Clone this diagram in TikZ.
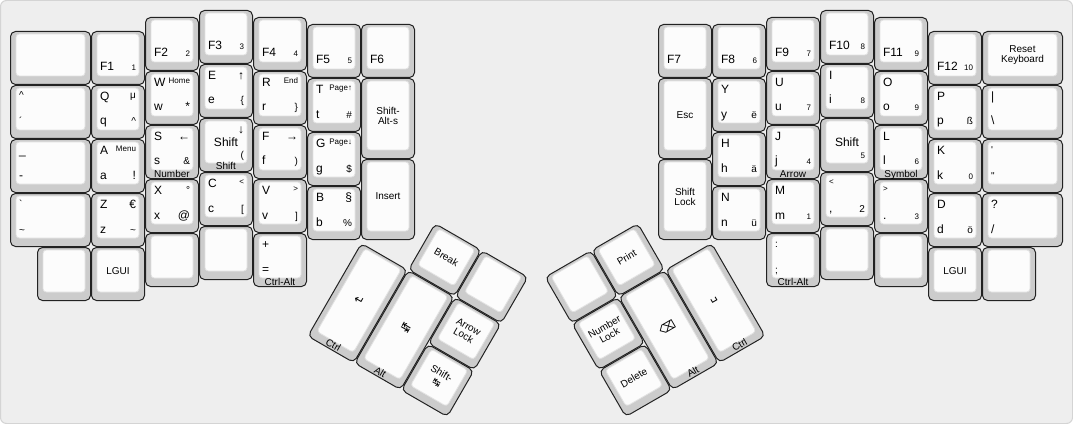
\documentclass[tikz,border=0pt]{standalone}
\usepackage{fontspec}
\newfontfamily\kf{Liberation Sans}
\newfontfamily\symf{DejaVu Sans}
\newcommand\sA{\fontsize{9}{9.5}\selectfont}
\newcommand\sB{\fontsize{7.5}{7.6}\selectfont}
\newcommand\sC{\fontsize{6}{6.5}\selectfont}
\def\bA{15.6}\def\bB{14}\def\bC{12.4}
\definecolor{bg}{HTML}{EEEEEE}
\definecolor{bgline}{HTML}{D4D4D4}
\definecolor{keyside}{HTML}{CCCCCC}
\definecolor{keyline}{HTML}{222222}
\definecolor{keytop}{HTML}{FCFCFC}
\definecolor{keytopline}{HTML}{E2E2E2}
\newcounter{lc}
\tikzset{
  keyout/.style={fill=keyside, draw=keyline, line width=0.75pt, rounded corners=3.75pt},
  keyin/.style={fill=keytop, draw=keytopline, line width=0.6pt, rounded corners=2.5pt},
  lbl/.style={inner sep=0pt, outer sep=0pt, text=black, transform shape},
}
\newcommand\keyk[5]{\begin{scope}[shift={(#1,#2)}]\def\kw{#3}\def\kh{#4}%
  \draw[keyout] (0.5,0.5) rectangle (#3-0.5,#4-0.5);%
  \draw[keyin] (6,3) rectangle (#3-6,#4-9);#5\end{scope}}
\newcommand\kTL[2][A]{\stepcounter{lc}\node[lbl,name=n\arabic{lc},anchor=base west,font=\kf\csname s#1\endcsname] at (9,\csname b#1\endcsname) {#2};}
\newcommand\kTR[2][B]{\stepcounter{lc}\node[lbl,name=n\arabic{lc},anchor=base east,font=\kf\csname s#1\endcsname] at (\kw-9,\csname b#1\endcsname) {#2};}
\newcommand\kBL[2][A]{\stepcounter{lc}\node[lbl,name=n\arabic{lc},anchor=base west,font=\kf\csname s#1\endcsname] at (9,\kh-14) {#2};}
\newcommand\kBR[2][B]{\stepcounter{lc}\node[lbl,name=n\arabic{lc},anchor=base east,font=\kf\csname s#1\endcsname] at (\kw-9,\kh-14) {#2};}
\newcommand\kCT[2][B]{\stepcounter{lc}\node[lbl,name=n\arabic{lc},align=center,font=\kf\csname s#1\endcsname] at (\kw/2,\kh/2-3) {#2};}
\newcommand\kFR[1]{\stepcounter{lc}\node[lbl,name=n\arabic{lc},anchor=base,font=\kf\sB] at (\kw/2,\kh-2) {#1};}
\begin{document}
\begin{tikzpicture}[x=0.75pt,y=-0.75pt]
\useasboundingbox (0,0) rectangle (1073,424);
\filldraw[fill=bg, draw=bgline, line width=0.75pt, rounded corners=4.5pt] (0.5,0.5) rectangle (1072.5,423.5);
% ---------- left half ----------
\keyk{10}{31}{81}{54}{}
\keyk{10}{85}{81}{54}{\kTL[B]{\textasciicircum}\kBL[B]{´}}
\keyk{10}{139}{81}{54}{\kTL{\_}\kBL{-}}
\keyk{10}{193}{81}{54}{\kTL[B]{\symbol{96}}\kBL[B]{\textasciitilde}}
\keyk{91}{31}{54}{54}{\kBL{F1}\kBR[C]{1}}
\keyk{91}{85}{54}{54}{\kTL{Q}\kTR{μ}\kBL{q}\kBR{\textasciicircum}}
\keyk{91}{139}{54}{54}{\kTL{A}\kTR[C]{Menu}\kBL{a}\kBR[A]{!}}
\keyk{91}{193}{54}{54}{\kTL{Z}\kTR[A]{€}\kBL{z}\kBR{\textasciitilde}}
\keyk{37}{247}{54}{54}{}
\keyk{91}{247}{54}{54}{\kCT{LGUI}}
\keyk{145}{17}{54}{54}{\kBL{F2}\kBR[C]{2}}
\keyk{145}{71}{54}{54}{\kTL{W}\kTR[C]{Home}\kBL{w}\kBR[A]{*}}
\keyk{145}{125}{54}{54}{\kTL{S}\kTR[A]{←}\kBL{s}\kBR{\&}\kFR{Number}}
\keyk{145}{179}{54}{54}{\kTL{X}\kTR{°}\kBL{x}\kBR[A]{@}}
\keyk{145}{233}{54}{54}{}
\keyk{199}{10}{54}{54}{\kBL{F3}\kBR[C]{3}}
\keyk{199}{64}{54}{54}{\kTL{E}\kTR[A]{↑}\kBL{e}\kBR{\{}}
\keyk{199}{118}{54}{54}{\kCT[A]{Shift}\kTR[A]{↓}\kBR{(}\kFR{Shift}}
\keyk{199}{172}{54}{54}{\kTL{C}\kTR[C]{<}\kBL{c}\kBR{[}}
\keyk{199}{226}{54}{54}{}
\keyk{253}{17}{54}{54}{\kBL{F4}\kBR[C]{4}}
\keyk{253}{71}{54}{54}{\kTL{R}\kTR[C]{End}\kBL{r}\kBR{\}}}
\keyk{253}{125}{54}{54}{\kTL{F}\kTR[A]{→}\kBL{f}\kBR{)}}
\keyk{253}{179}{54}{54}{\kTL{V}\kTR[C]{>}\kBL{v}\kBR{]}}
\keyk{253}{233}{54}{54}{\kTL{+}\kBL{=}\kFR{Ctrl-Alt}}
\keyk{307}{24}{54}{54}{\kBL{F5}\kBR[C]{5}}
\keyk{307}{78}{54}{54}{\kTL{T}\kTR[C]{Page↑}\kBL{t}\kBR{\#}}
\keyk{307}{132}{54}{54}{\kTL{G}\kTR[C]{Page↓}\kBL{g}\kBR{\$}}
\keyk{307}{186}{54}{54}{\kTL{B}\kTR[A]{§}\kBL{b}\kBR{\%}}
\keyk{361}{24}{54}{54}{\kBL{F6}}
\keyk{361}{78}{54}{81}{\kCT{Shift-\\Alt-s}}
\keyk{361}{159}{54}{81}{\kCT{Insert}}
% ---------- left thumb ----------
\begin{scope}[shift={(388.2,196)},rotate=-30]
\keyk{54}{0}{54}{54}{\kCT{Break}}
\keyk{108}{0}{54}{54}{}
\keyk{0}{54}{54}{108}{\kCT[A]{{\symf ↵}}\kFR{Ctrl}}
\keyk{54}{54}{54}{108}{\kCT[A]{{\symf ↹}}\kFR{Alt}}
\keyk{108}{54}{54}{54}{\kCT{Arrow\\Lock}}
\keyk{108}{108}{54}{54}{\kCT{Shift-\\{\symf ↹}}}
\end{scope}
% ---------- right half ----------
\keyk{658}{24}{54}{54}{\kBL{F7}}
\keyk{658}{78}{54}{81}{\kCT{Esc}}
\keyk{658}{159}{54}{81}{\kCT{Shift\\Lock}}
\keyk{712}{24}{54}{54}{\kBL{F8}\kBR[C]{6}}
\keyk{712}{78}{54}{54}{\kTL{Y}\kBL{y}\kBR{ë}}
\keyk{712}{132}{54}{54}{\kTL{H}\kBL{h}\kBR{ä}}
\keyk{712}{186}{54}{54}{\kTL{N}\kBL{n}\kBR{ü}}
\keyk{766}{17}{54}{54}{\kBL{F9}\kBR[C]{7}}
\keyk{766}{71}{54}{54}{\kTL{U}\kBL{u}\kBR[C]{7}}
\keyk{766}{125}{54}{54}{\kTL{J}\kBL{j}\kBR[C]{4}\kFR{Arrow}}
\keyk{766}{179}{54}{54}{\kTL{M}\kBL{m}\kBR[C]{1}}
\keyk{766}{233}{54}{54}{\kTL[B]{:}\kBL[B]{;}\kFR{Ctrl-Alt}}
\keyk{820}{10}{54}{54}{\kBL{F10}\kBR[C]{8}}
\keyk{820}{64}{54}{54}{\kTL{I}\kBL{i}\kBR[C]{8}}
\keyk{820}{118}{54}{54}{\kCT[A]{Shift}\kBR[C]{5}}
\keyk{820}{172}{54}{54}{\kTL[C]{<}\kBL{,}\kBR{2}}
\keyk{820}{226}{54}{54}{}
\keyk{874}{17}{54}{54}{\kBL{F11}\kBR[C]{9}}
\keyk{874}{71}{54}{54}{\kTL{O}\kBL{o}\kBR[C]{9}}
\keyk{874}{125}{54}{54}{\kTL{L}\kBL{l}\kBR[C]{6}\kFR{Symbol}}
\keyk{874}{179}{54}{54}{\kTL[C]{>}\kBL{.}\kBR[C]{3}}
\keyk{874}{233}{54}{54}{}
\keyk{928}{31}{54}{54}{\kBL{F12}\kBR[C]{10}}
\keyk{928}{85}{54}{54}{\kTL{P}\kBL{p}\kBR{ß}}
\keyk{928}{139}{54}{54}{\kTL{K}\kBL{k}\kBR[C]{0}}
\keyk{928}{193}{54}{54}{\kTL{D}\kBL{d}\kBR{ö}}
\keyk{928}{247}{54}{54}{\kCT{LGUI}}
\keyk{982}{31}{81}{54}{\kCT{Reset\\Keyboard}}
\keyk{982}{85}{81}{54}{\kTL{|}\kBL{\textbackslash}}
\keyk{982}{139}{81}{54}{\kTL[B]{'}\kBL[B]{"}}
\keyk{982}{193}{81}{54}{\kTL{?}\kBL{/}}
\keyk{982}{247}{54}{54}{}
% ---------- right thumb ----------
\begin{scope}[shift={(684.8,196)},rotate=30]
\keyk{-162}{0}{54}{54}{}
\keyk{-108}{0}{54}{54}{\kCT{Print}}
\keyk{-162}{54}{54}{54}{\kCT{Number\\Lock}}
\keyk{-162}{108}{54}{54}{\kCT{Delete}}
\keyk{-108}{54}{54}{108}{\kCT[A]{{\symf ⌫}}\kFR{Alt}}
\keyk{-54}{54}{54}{108}{\kCT[A]{{\symf ␣}}\kFR{Ctrl}}
\end{scope}
\end{tikzpicture}
\end{document}
